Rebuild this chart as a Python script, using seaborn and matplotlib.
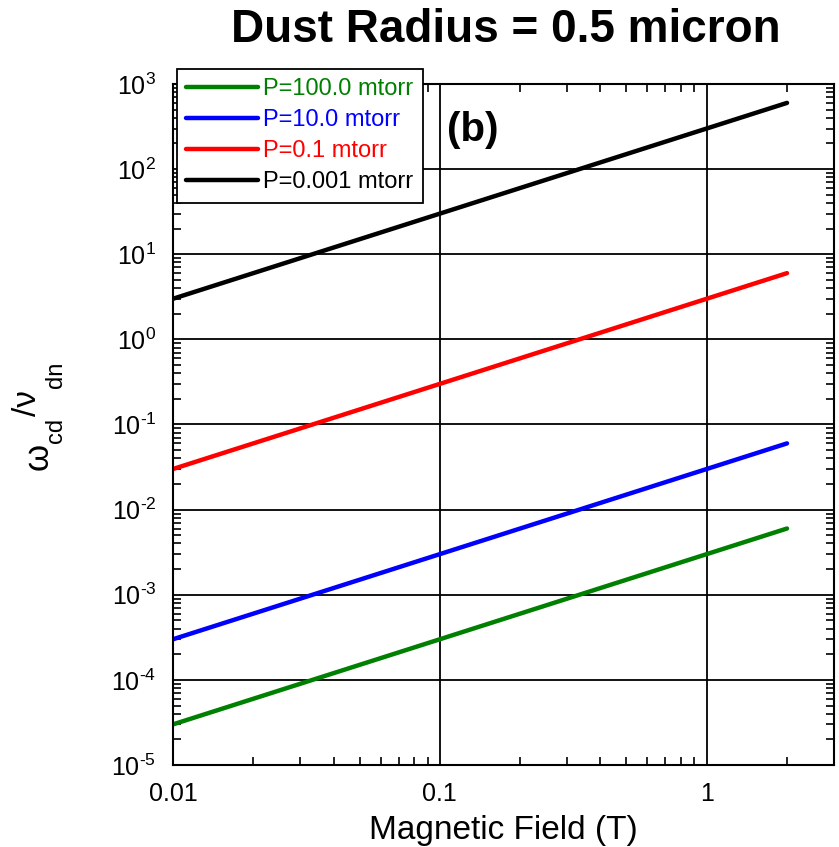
import numpy as np
import pandas as pd
import matplotlib
matplotlib.use("Agg")
import matplotlib.pyplot as plt
import matplotlib.ticker as mticker
from matplotlib.lines import Line2D
import seaborn as sns

# ---- data ----
field_T = [0.01, 0.1, 1.0, 2.0]
p100_0 = [3e-5, 3e-4, 3e-3, 6e-3]
p10_0 = [3e-4, 3e-3, 3e-2, 6e-2]
p0_1 = [3e-2, 3e-1, 3.0, 6.0]
p0_001 = [3.0, 30.0, 300.0, 600.0]
labels = ["P=100.0 mtorr", "P=10.0 mtorr", "P=0.1 mtorr", "P=0.001 mtorr"]
colors = ["#008000", "#0000ff", "#ff0000", "#000000"]
x_ticks = [0.01, 0.1, 1]
x_ticklabels = ["0.01", "0.1", "1"]
y_exponents = [-5, -4, -3, -2, -1, 0, 1, 2, 3]

sns.set_style("ticks", rc={"text.color": "black", "axes.labelcolor": "black",
                           "xtick.color": "black", "ytick.color": "black",
                           "axes.edgecolor": "black"})
plt.rcParams["font.family"] = ["Liberation Sans", "DejaVu Sans"]
plt.rcParams["mathtext.fontset"] = "custom"
plt.rcParams["mathtext.rm"] = "Liberation Sans"
plt.rcParams["mathtext.it"] = "Liberation Sans"
plt.rcParams["mathtext.bf"] = "Liberation Sans:bold"
plt.rcParams["axes.unicode_minus"] = False

rows = []
for lab, vals in zip(labels, [p100_0, p10_0, p0_1, p0_001]):
    for x, v in zip(field_T, vals):
        rows.append({"B": x, "ratio": v, "P": lab})
df = pd.DataFrame(rows)

fig = plt.figure(figsize=(8.39, 8.47), dpi=100)
ax = fig.add_axes([173/839, 1-765/847, (834-173)/839, (765-84)/847])

sns.lineplot(data=df, x="B", y="ratio", hue="P", hue_order=labels,
             palette=colors, linewidth=3.2, ax=ax, legend=False)

ax.set_xscale("log")
ax.set_yscale("log")
ax.set_xlim(0.01, 3)
ax.set_ylim(1e-5, 1e3)

ax.set_xticks(x_ticks)
ax.set_xticklabels(x_ticklabels)
ax.set_yticks([10.0**e for e in y_exponents])
ax.set_yticklabels([r"$\mathdefault{10^{%s}}$" % (("\u2010" + str(-e)) if e < 0 else str(e))
                    for e in y_exponents])
ax.yaxis.set_minor_locator(mticker.LogLocator(base=10, subs=np.arange(2, 10), numticks=20))
ax.xaxis.set_minor_locator(mticker.LogLocator(base=10, subs=np.arange(2, 10), numticks=20))
ax.yaxis.set_minor_formatter(mticker.NullFormatter())
ax.xaxis.set_minor_formatter(mticker.NullFormatter())

ax.grid(True, which="major", color="black", linewidth=1.3)
ax.tick_params(which="both", direction="in", top=True, right=True, colors="black")
ax.tick_params(which="major", length=0, labelsize=18, pad=12)
ax.tick_params(which="minor", length=6, width=1.2)
for s in ax.spines.values():
    s.set_linewidth(1.5)
    s.set_color("black")

ax.set_xlabel("Magnetic Field (T)", fontsize=24, labelpad=7)
ax.set_ylabel("")

# y label built from pieces: omega_cd with a raised "/nu" and subscript dn
def fx(px):
    return px / 839

def fy(py):
    return 1 - py / 847

fig.text(fx(38), fy(456), "\u03c9", fontsize=25, rotation=90, ha="center", va="center")
fig.text(fx(56), fy(430), "cd", fontsize=17, rotation=90, ha="center", va="center")
fig.text(fx(28), fy(403), "/\u03bd", fontsize=24, rotation=90, ha="center", va="center")
fig.text(fx(56), fy(375), "dn", fontsize=17, rotation=90, ha="center", va="center")

handles = [Line2D([0], [0], color=c, lw=3.2) for c in colors]
leg = ax.legend(handles, labels, loc="upper left", bbox_to_anchor=(0.006, 1.022),
                borderaxespad=0, fontsize=17, handlelength=3.05, labelspacing=0.38,
                handletextpad=0.2, borderpad=0.4, fancybox=False, framealpha=1,
                edgecolor="black")
leg.get_frame().set_linewidth(1.3)
for t, c in zip(leg.get_texts(), colors):
    t.set_color(c)

ax.text((447-173)/661, 1-(130-84)/681, "(b)", transform=ax.transAxes,
        fontsize=29, fontweight="bold", va="center", ha="left")

fig.text(506/839, 1-30/847, "Dust Radius = 0.5 micron", fontsize=33,
         fontweight="bold", ha="center", va="center")

fig.savefig("out.png", dpi=100)
